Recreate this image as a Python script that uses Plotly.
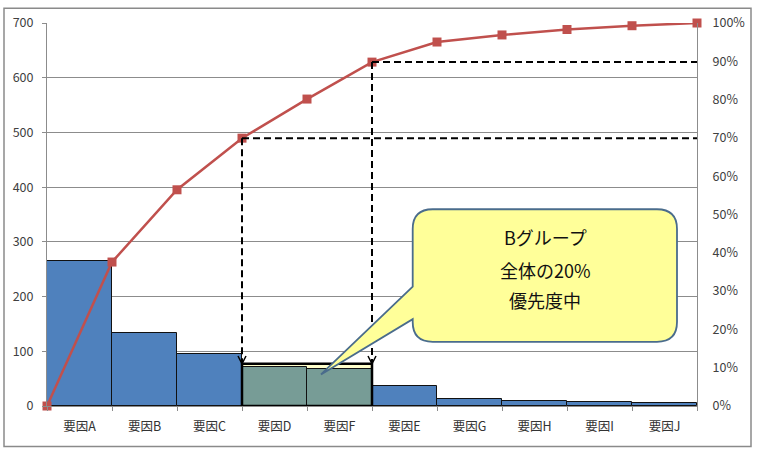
import plotly.graph_objects as go

categories = ["要因A", "要因B", "要因C", "要因D", "要因F", "要因E", "要因G", "要因H", "要因I", "要因J"]
counts = [265, 133, 95, 72, 68, 37, 13, 10, 7, 5]
left_ticks = [0, 100, 200, 300, 400, 500, 600, 700]
callout_lines = ["Bグループ", "全体の20%", "優先度中"]
group_b = ["要因D", "要因F"]
group_box_top = 77

total = sum(counts)
cum = []
s = 0
for v in counts:
    s += v
    cum.append(s / total)
line_x = list(range(len(categories) + 1))
line_y = [0] + cum

BLUE = "#4F81BD"
GREEN = "#779C96"
RED = "#C0504D"
GRID = "#8C8C8C"
FONT = "Noto Sans CJK JP"

bar_colors = [GREEN if c in group_b else BLUE for c in categories]
bar_x = [i + 0.5 for i in range(len(categories))]

fig = go.Figure()
fig.add_trace(go.Bar(x=bar_x, y=counts, width=1, marker=dict(color=bar_colors, line=dict(color="#111111", width=1)),
                     showlegend=False, hoverinfo="skip"))
fig.add_trace(go.Scatter(x=line_x, y=line_y, yaxis="y2", mode="lines+markers",
                         line=dict(color=RED, width=2.5),
                         marker=dict(symbol="square", size=9, color=RED),
                         cliponaxis=False, showlegend=False))

# geometry helpers (pixel -> paper)
W, H = 757, 451
ML, MR, MT, MB = 47, 60, 18, 45
PW, PH = W - ML - MR, H - MT - MB
YMAX = left_ticks[-1]
NX = len(categories)

def px(x):
    return (x - ML) / PW

def py(y):
    return (H - MB - y) / PH

shapes = []
i0 = categories.index(group_b[0])
i1 = categories.index(group_b[-1]) + 1
shapes.append(dict(type="rect", xref="x", yref="y", x0=i0, x1=i1, y0=0, y1=group_box_top,
                   fillcolor="#FFFFCC", line=dict(width=0), layer="between"))
shapes.append(dict(type="rect", xref="x", yref="y", x0=i0, x1=i1, y0=0, y1=group_box_top,
                   fillcolor="rgba(0,0,0,0)", line=dict(color="black", width=2.5), layer="above"))

dash = "7px,4px"
for xb, cv in [(i0, cum[i0 - 1]), (i1, cum[i1 - 1])]:
    shapes.append(dict(type="line", xref="x", yref="y2", x0=xb, x1=xb, y0=cv, y1=group_box_top / YMAX,
                       line=dict(color="black", width=2, dash=dash)))
    shapes.append(dict(type="line", xref="x", yref="y2", x0=xb, x1=NX, y0=cv, y1=cv,
                       line=dict(color="black", width=2, dash=dash)))
    xp = xb / NX
    yp = group_box_top / YMAX
    dx, dy = 4 / PW, 8 / PH
    shapes.append(dict(type="path", xref="paper", yref="paper",
                       path=f"M{xp-dx},{yp+dy} L{xp},{yp} L{xp+dx},{yp+dy}",
                       line=dict(color="black", width=1.5)))

# callout bubble
x1, x2, y1, y2, r = 412.7, 677, 206.7, 341, 20
tail_a, tail_b, tip = 285, 318, (321, 374)
def P(x, y):
    return f"{px(x):.5f},{py(y):.5f}"
path = (f"M{P(x1+r, y1)} L{P(x2-r, y1)} Q{P(x2, y1)} {P(x2, y1+r)} "
        f"L{P(x2, y2-r)} Q{P(x2, y2)} {P(x2-r, y2)} L{P(x1+r, y2)} Q{P(x1, y2)} {P(x1, y2-r)} "
        f"L{P(x1, tail_b)} L{P(*tip)} L{P(x1, tail_a)} L{P(x1, y1+r)} Q{P(x1, y1)} {P(x1+r, y1)} Z")
shapes.append(dict(type="path", xref="paper", yref="paper", path=path,
                   fillcolor="#FFFF99", line=dict(color="#4A6C8C", width=1.8), layer="above"))

# outer border
shapes.append(dict(type="rect", xref="paper", yref="paper", x0=px(4), x1=px(751), y0=py(447), y1=py(3),
                   line=dict(color="#8A8A8A", width=1.5), fillcolor="rgba(0,0,0,0)"))

annotations = []
for txt, yy in zip(callout_lines, [235, 268, 299]):
    annotations.append(dict(text=txt, xref="paper", yref="paper", x=px(545), y=py(yy),
                            showarrow=False, font=dict(family=FONT, size=18, color="#111111"),
                            xanchor="center", yanchor="middle"))

fig.update_layout(
    width=W, height=H,
    margin=dict(l=ML, r=MR, t=MT, b=MB),
    paper_bgcolor="white", plot_bgcolor="white",
    bargap=0,
    font=dict(family=FONT, size=12, color="#404040"),
    shapes=shapes, annotations=annotations,
    xaxis=dict(range=[0, NX], tickmode="array", tickvals=bar_x, ticktext=categories, ticks="",
               showgrid=False, showline=True, linecolor=GRID, linewidth=1, zeroline=False,
               ticklabelstandoff=9, tickfont=dict(size=12.5, color="#333333"),
               minor=dict(tickmode="array", tickvals=list(range(NX + 1)), ticks="outside", ticklen=4,
                          tickcolor=GRID, showgrid=False)),
    yaxis=dict(range=[0, YMAX], tickmode="array", tickvals=left_ticks, showgrid=True, gridcolor=GRID,
               gridwidth=1, showline=True, linecolor=GRID, ticks="outside", ticklen=4, tickcolor=GRID,
               zeroline=False, ticklabelstandoff=6, tickfont=dict(size=12.5, color="#404040")),
    yaxis2=dict(range=[0, 1], overlaying="y", side="right", tickformat=".0%", dtick=0.1, showgrid=False,
                showline=True, linecolor=GRID, zeroline=False, ticks="", ticklabelstandoff=12,
                tickfont=dict(size=12.5, color="#404040")),
)

fig.write_html("out.html", config={"displayModeBar": False},
               post_script="document.body.style.margin='0';document.body.style.overflow='hidden';")
